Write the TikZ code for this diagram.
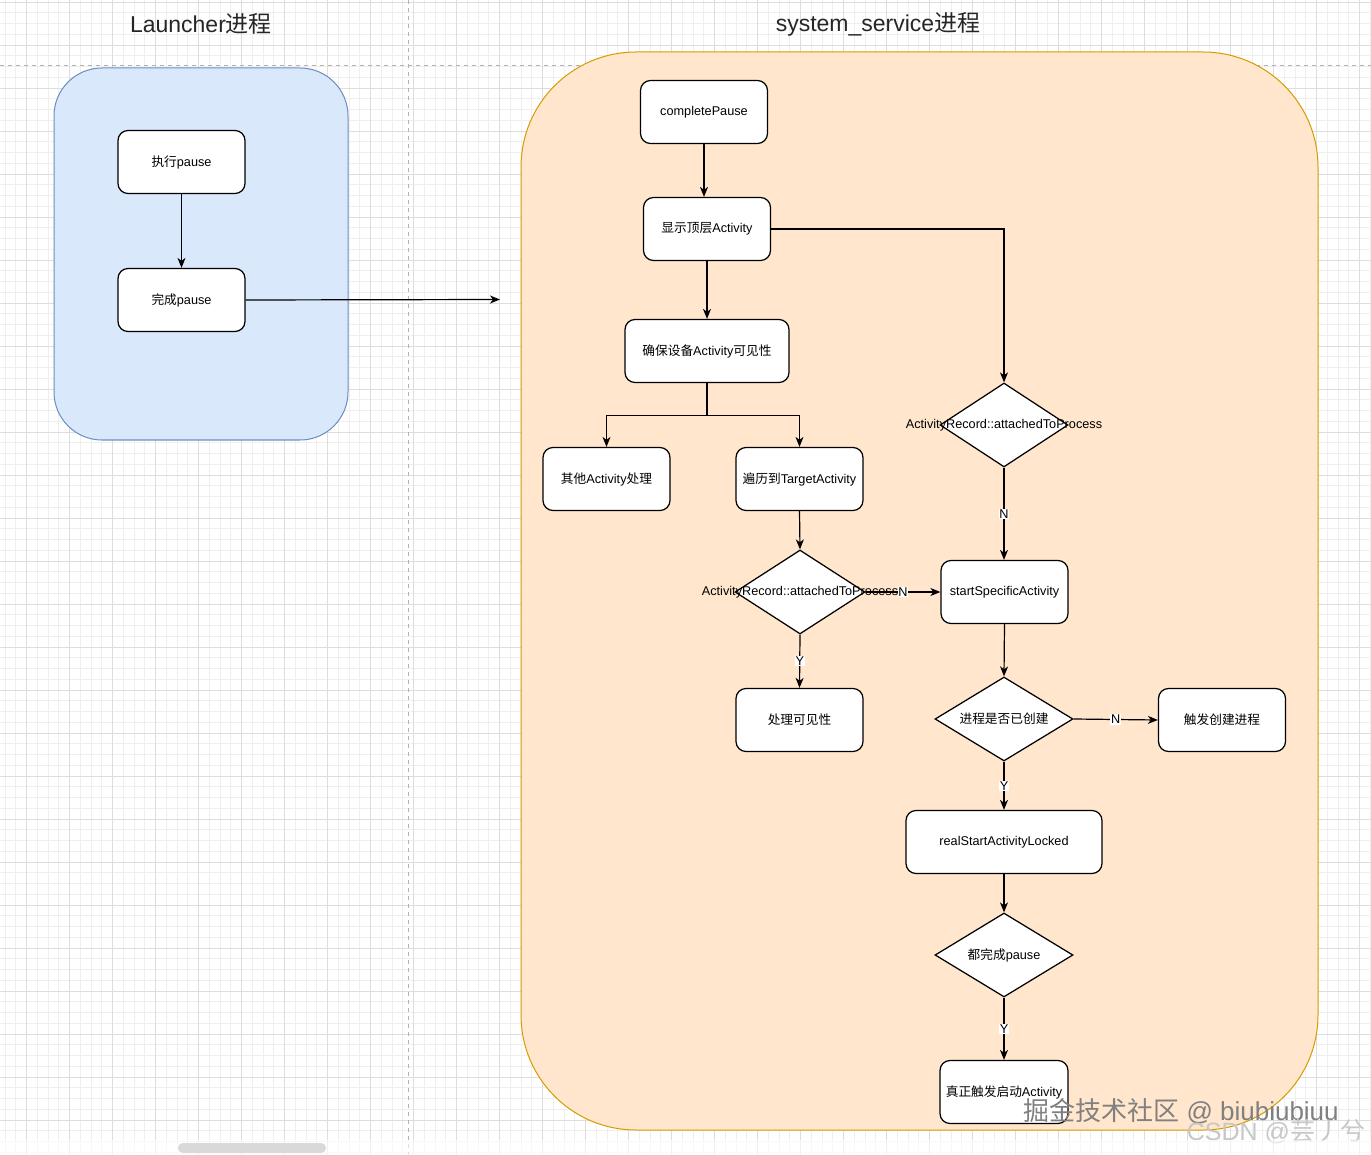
\documentclass[tikz,border=0pt]{standalone}
\usepackage{fontspec}
\setmainfont{Liberation Sans}
\newfontfamily\cjk{Noto Sans CJK SC}
\usetikzlibrary{shapes.geometric, arrows.meta}
\newcommand{\zhs}[1]{{\cjk #1}}
\definecolor{launcherfill}{HTML}{DAE8FC}
\definecolor{launcherline}{HTML}{6C8EBF}
\definecolor{sysfill}{HTML}{FFE6CC}
\definecolor{sysline}{HTML}{D79B00}
\definecolor{gridminor}{HTML}{EFEFEF}
\definecolor{gridmajor}{HTML}{DDDDDD}

\begin{document}
\begin{tikzpicture}[x = 1pt, y = -1pt,
  box/.style = {draw, fill=white, rounded corners=10pt, line width=1.25pt, minimum width=127pt, minimum height=63pt, inner sep=2pt, font=\fontsize{12.7}{15}\selectfont},
  dec/.style = {draw, fill=white, diamond, line width=1.25pt, minimum width=130pt, minimum height=84pt, inner sep=0pt, font=\fontsize{12.7}{15}\selectfont},
  arr/.style = {line width=1.2pt, -{Stealth[length=10pt, width=8pt, inset=3pt]}},
  yn/.style = {fill=white, inner sep=0.8pt, font=\fontsize{12.7}{15}\selectfont},
  title/.style = {text=black!85, font=\fontsize{23}{27}\selectfont}]
\useasboundingbox (0,0) rectangle (1371,1155);
\fill[white] (0,0) rectangle (1371,1155);
\foreach \k in {-2,...,125} \draw[gridminor, line width=0.8pt] ({26.5+10.75*\k},0) -- ++(0,1155);
\foreach \k in {0,...,107} \draw[gridminor, line width=0.8pt] (0,{2+10.75*\k}) -- ++(1371,0);
\foreach \k in {0,...,31} \draw[gridmajor, line width=0.8pt] ({26.5+43*\k},0) -- ++(0,1155);
\foreach \k in {0,...,26} \draw[gridmajor, line width=0.8pt] (0,{2+43*\k}) -- ++(1371,0);
\draw[black!30, line width=0.9pt, dash pattern=on 4pt off 4pt] (408,0) -- (408,1155);
\draw[black!30, line width=0.9pt, dash pattern=on 4pt off 4pt] (0,65) -- (1371,65);
\node[title] (launchertitle) at (201,24) {Launcher\zhs{进程}};
\node[title] (systitle) at (878,24) {system\_service\zhs{进程}};
\draw[launcherline, fill=launcherfill, line width=1pt, rounded corners=48pt] (54,68) rectangle (348,440);
\draw[sysline, fill=sysfill, line width=1pt, rounded corners=115pt] (521,52) rectangle (1318,1130);
\node[box] (exec) at (181.5,162) {\zhs{执行}pause};
\node[box] (done) at (181.5,300) {\zhs{完成}pause};
\coordinate (sysin) at (500,299.5);
\node[box] (complete) at (704,112) {completePause};
\node[box] (showtop) at (707,229) {\zhs{显示顶层}Activity};
\node[box, minimum width=164pt] (ensure) at (707,351) {\zhs{确保设备}Activity\zhs{可见性}};
\node[box] (other) at (606.5,479) {\zhs{其他}Activity\zhs{处理}};
\node[box] (traverse) at (799.5,479) {\zhs{遍历到}TargetActivity};
\node[dec] (attachedA) at (800,592) {\makebox[0pt]{ActivityRecord::attachedToProcess}};
\node[dec, minimum width=128pt] (attachedB) at (1004,425) {\makebox[0pt]{ActivityRecord::attachedToProcess}};
\node[box] (startspec) at (1004.5,592) {startSpecificActivity};
\node[box] (visible) at (799.5,720) {\zhs{处理可见性}};
\node[dec, minimum width=138pt] (created) at (1004,719) {\makebox[0pt]{\zhs{进程是否已创建}}};
\node[box] (trigger) at (1222,720) {\zhs{触发创建进程}};
\node[box, minimum width=196pt] (realstart) at (1004,842) {realStartActivityLocked};
\node[dec, minimum width=138pt] (allpaused) at (1004,955) {\makebox[0pt]{\zhs{都完成}pause}};
\node[box, minimum width=128pt] (launch) at (1004,1092) {\zhs{真正触发启动}Activity};
\draw[arr] (exec) -- (done);
\draw[arr] (done.east) -- (sysin);
\draw[arr] (complete.south) -- (complete.south |- showtop.north);
\draw[arr] (showtop.south) -- (ensure.north);
\draw[arr] (showtop.east) -| (attachedB.north);
\draw[arr] (ensure.south) -- ++(0,32) -| (other.north);
\draw[arr] (ensure.south) -- ++(0,32) -| (traverse.north);
\draw[arr] (traverse.south) -- (attachedA.north);
\draw[arr] (attachedA.east) -- node[yn]{N} (startspec.west);
\draw[arr] (attachedA.south) -- node[yn]{Y} (visible.north);
\draw[arr] (attachedB.south) -- node[yn]{N} (attachedB.south |- startspec.north);
\draw[arr] (startspec.south) -- (created.north);
\draw[arr] (created.east) -- node[yn]{N} (trigger.west);
\draw[arr] (created.south) -- node[yn]{Y} (realstart.north);
\draw[arr] (realstart.south) -- (allpaused.north);
\draw[arr] (allpaused.south) -- node[yn]{Y} (launch.north);
\node[text=black!50, font=\fontsize{26}{30}\selectfont] (juejin) at (1181,1111) {\zhs{掘金技术社区} @ biubiubiuu};
\node[text=black!22, font=\fontsize{25}{29}\selectfont] (csdn) at (1276,1132) {CSDN @\zhs{芸丿兮}};
\fill[white, opacity=0.6] (0,1140) rectangle (1371,1155);
\fill[black!15, rounded corners=5pt] (178,1143) rectangle (326,1153);
\end{tikzpicture}
\end{document}
